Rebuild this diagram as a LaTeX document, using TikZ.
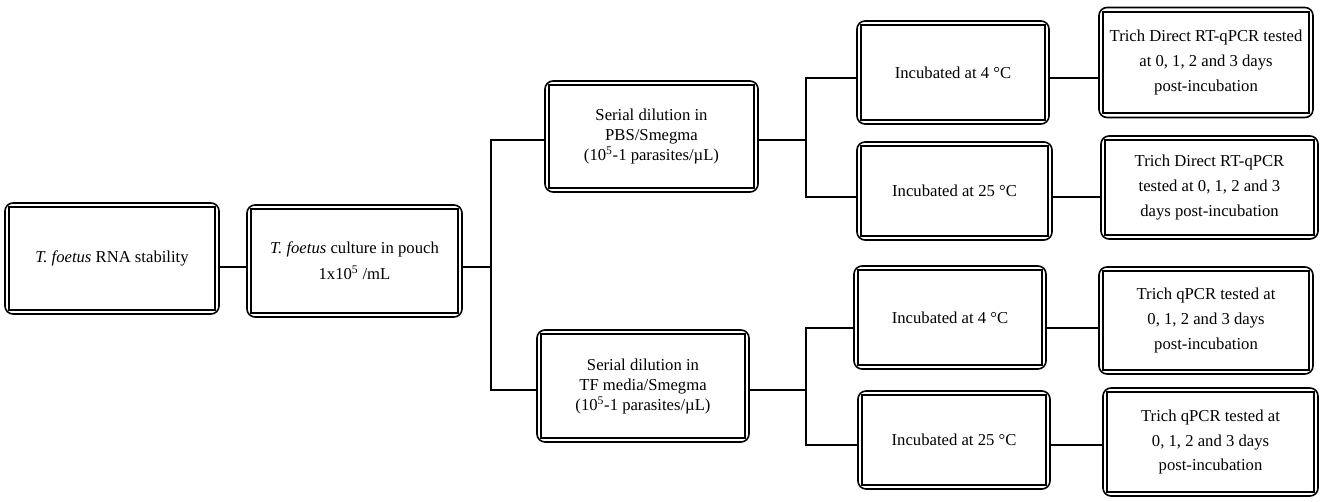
\documentclass[tikz,border=0pt]{standalone}
\usepackage{fontspec}
\setmainfont{Liberation Serif}
\tikzset{sz/.style 2 args={minimum width=#1*0.75pt,minimum height=#2*0.75pt}}
\begin{document}
\begin{tikzpicture}[x=0.75pt,y=-0.75pt,
  stage/.style={draw,line width=1.2pt,rounded corners=6pt,align=center,inner sep=0pt,
    font=\fontsize{12.5}{15}\selectfont,
    path picture={\draw[line width=1.2pt,sharp corners]
      ([shift={(3.2pt,-3.2pt)}]path picture bounding box.north west) rectangle
      ([shift={(-3.2pt,3.2pt)}]path picture bounding box.south east);}},
  tall/.style={font=\fontsize{12.5}{18.5}\selectfont},
  link/.style={line width=1.3pt}]
\useasboundingbox (0,0) rectangle (1325,502);
% first column
\node[stage,sz={214}{111}] (rna) at (112,258.5) {\textit{T. foetus} RNA stability};
\node[stage,sz={215}{112}] (pouch) at (354.5,261) {\textit{T. foetus} culture in pouch\\[4.5pt]1x10\textsuperscript{5} /mL};
% dilutions
\node[stage,sz={213}{111}] (pbs) at (651.5,136.5) {Serial dilution in\\PBS/Smegma\\(10\textsuperscript{5}-1 parasites/µL)};
\node[stage,sz={212}{112}] (tf) at (643,386) {Serial dilution in\\TF media/Smegma\\(10\textsuperscript{5}-1 parasites/µL)};
% incubation
\node[stage,sz={192}{103}] (pbsfour) at (953,72.5) {Incubated at 4 °C};
\node[stage,sz={195}{98}] (pbstwentyfive) at (954.5,191) {Incubated at 25 °C};
\node[stage,sz={192}{103}] (tffour) at (950,317.5) {Incubated at 4 °C};
\node[stage,sz={192}{98}] (tftwentyfive) at (954,440) {Incubated at 25 °C};
% testing
\node[stage,tall,sz={214}{110}] (rtfour) at (1206,62.5) {Trich Direct RT-qPCR tested\\at 0, 1, 2 and 3 days\\post-incubation};
\node[stage,tall,sz={217}{103}] (rttwentyfive) at (1209.5,187.5) {Trich Direct RT-qPCR\\tested at 0, 1, 2 and 3\\days post-incubation};
\node[stage,tall,sz={214}{107}] (qfour) at (1206,320.5) {Trich qPCR tested at\\0, 1, 2 and 3 days\\post-incubation};
\node[stage,tall,sz={215}{108}] (qtwentyfive) at (1210.5,442) {Trich qPCR tested at\\0, 1, 2 and 3 days\\post-incubation};
% connector rows and junctions
\coordinate (rowmain) at (0,267);
\coordinate (rowpbs) at (0,140);
\coordinate (rowtf) at (0,390);
\coordinate (rowa) at (0,78);
\coordinate (rowb) at (0,197);
\coordinate (rowc) at (0,328);
\coordinate (rowd) at (0,445);
\coordinate (split) at (491,267);
\coordinate (pbssplit) at (806,140);
\coordinate (tfsplit) at (806,390);
\draw[link] (rna.east |- rowmain) -- (pouch.west |- rowmain);
\draw[link] (pouch.east |- rowmain) -- (split);
\draw[link] (pbs.west |- rowpbs) -| (split) |- (tf.west |- rowtf);
\draw[link] (pbs.east |- rowpbs) -- (pbssplit);
\draw[link] (pbsfour.west |- rowa) -| (pbssplit) |- (pbstwentyfive.west |- rowb);
\draw[link] (tf.east |- rowtf) -- (tfsplit);
\draw[link] (tffour.west |- rowc) -| (tfsplit) |- (tftwentyfive.west |- rowd);
\draw[link] (pbsfour.east |- rowa) -- (rtfour.west |- rowa);
\draw[link] (pbstwentyfive.east |- rowb) -- (rttwentyfive.west |- rowb);
\draw[link] (tffour.east |- rowc) -- (qfour.west |- rowc);
\draw[link] (tftwentyfive.east |- rowd) -- (qtwentyfive.west |- rowd);
\end{tikzpicture}
\end{document}
